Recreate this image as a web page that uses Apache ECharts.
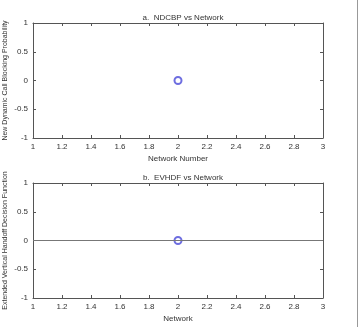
<!DOCTYPE html>
<html>
<head>
<meta charset="utf-8">
<script src="https://cdn.jsdelivr.net/npm/echarts@6/dist/echarts.min.js"></script>
<style>
html, body { margin: 0; padding: 0; background: #fff; }
#chart { width: 359px; height: 327px; }
</style>
</head>
<body>
<div id="chart"></div>
<script>
// data
var networks = [2];
var ndcbp = [0];
var evhdf = [0];
var xTicks = [1, 1.2, 1.4, 1.6, 1.8, 2, 2.2, 2.4, 2.6, 2.8, 3];
var yTicks = [-1, -0.5, 0, 0.5, 1];
var titles = ['a.  NDCBP vs Network', 'b.  EVHDF vs Network'];
var xNames = ['Network Number', 'Network'];
var yNames = ['New Dynamic Call Blocking Probability', 'Extended Vertical Handoff Decision Function'];

var font = 'Liberation Sans, Arial, sans-serif';
var axisCol = '#555';
var txtCol = '#333';

var tops = [23, 183];
var grids = tops.map(function (t) {
    return { left: 33, right: 36, top: t, height: 115, containLabel: false, outerBoundsMode: 'none' };
});

var xAxes = [], yAxes = [];
for (var g = 0; g < 2; g++) {
    xAxes.push({
        gridIndex: g, type: 'value', position: 'bottom',
        min: xTicks[0], max: xTicks[xTicks.length - 1], interval: 0.2,
        name: xNames[g], nameLocation: 'middle', nameGap: 17, nameMoveOverlap: false,
        nameTextStyle: { fontFamily: font, fontSize: 8, color: txtCol },
        axisLine: { onZero: false, lineStyle: { color: axisCol, width: 1 } },
        axisTick: { inside: true, length: 3, lineStyle: { color: axisCol } },
        axisLabel: { fontFamily: font, fontSize: 8, color: txtCol, margin: 5,
            formatter: function (v) { return String(Math.round(v * 10) / 10); } },
        splitLine: { show: false }
    });
    xAxes.push({
        gridIndex: g, type: 'value', position: 'top',
        min: xTicks[0], max: xTicks[xTicks.length - 1], interval: 0.2,
        axisLine: { onZero: false, lineStyle: { color: axisCol, width: 1 } },
        axisTick: { inside: true, length: 3, lineStyle: { color: axisCol } },
        axisLabel: { show: false }, splitLine: { show: false }
    });
    yAxes.push({
        gridIndex: g, type: 'value', position: 'left',
        min: yTicks[0], max: yTicks[yTicks.length - 1], interval: 0.5,
        name: yNames[g], nameLocation: 'middle', nameGap: 24, nameRotate: 90,
        nameMoveOverlap: false,
        nameTextStyle: { fontFamily: font, fontSize: 7, color: txtCol },
        axisLine: { onZero: false, lineStyle: { color: axisCol, width: 1 } },
        axisTick: { inside: true, length: 3, lineStyle: { color: axisCol } },
        axisLabel: { fontFamily: font, fontSize: 8, color: txtCol, margin: 5 },
        splitLine: { show: false }
    });
    yAxes.push({
        gridIndex: g, type: 'value', position: 'right',
        min: yTicks[0], max: yTicks[yTicks.length - 1], interval: 0.5,
        axisLine: { onZero: false, lineStyle: { color: axisCol, width: 1 } },
        axisTick: { inside: true, length: 3, lineStyle: { color: axisCol } },
        axisLabel: { show: false }, splitLine: { show: false }
    });
}

var chart = echarts.init(document.getElementById('chart'));
chart.setOption({
    animation: false,
    backgroundColor: '#fff',
    title: titles.map(function (t, i) {
        return { text: t, left: 178, top: tops[i] - 14, textAlign: 'center',
            textStyle: { fontFamily: font, fontSize: 8, fontWeight: 'normal', color: txtCol } };
    }),
    grid: grids,
    xAxis: xAxes,
    yAxis: yAxes,
    graphic: [{
        type: 'line', shape: { x1: 357.5, y1: 0, x2: 357.5, y2: 327 },
        style: { stroke: '#999', lineWidth: 1 }
    }],
    series: [{
        type: 'scatter', xAxisIndex: 0, yAxisIndex: 0,
        data: networks.map(function (n, i) { return [n, ndcbp[i]]; }),
        symbol: 'emptyCircle', symbolSize: 7,
        itemStyle: { color: '#4a4ad8', borderWidth: 1 }
    }, {
        type: 'scatter', xAxisIndex: 2, yAxisIndex: 2,
        data: networks.map(function (n, i) { return [n, evhdf[i]]; }),
        symbol: 'emptyCircle', symbolSize: 7, z: 3,
        itemStyle: { color: '#4a4ad8', borderWidth: 1 },
        markLine: {
            silent: true, symbol: 'none', label: { show: false },
            lineStyle: { color: '#777', type: 'solid', width: 1 },
            data: [{ yAxis: 0 }]
        }
    }]
});
</script>
</body>
</html>
